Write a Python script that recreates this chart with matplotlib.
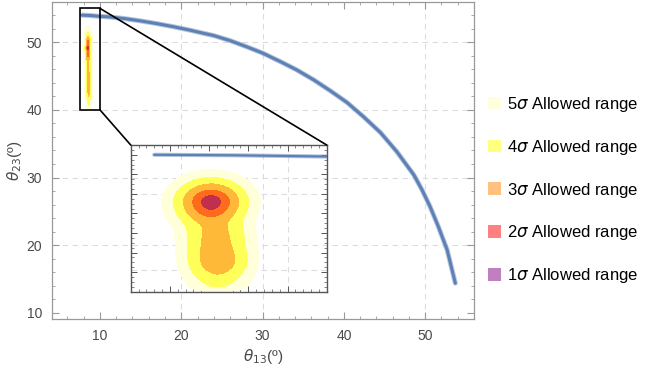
import matplotlib
matplotlib.use('Agg')
import matplotlib.pyplot as plt
import numpy as np
from matplotlib.patches import Rectangle, Patch, ConnectionPatch
from matplotlib.ticker import MultipleLocator

plt.rcParams['font.family'] = ['Liberation Sans', 'DejaVu Sans']
plt.rcParams['mathtext.fontset'] = 'dejavusans'

# scan points along the theta13 - theta23 band (degrees)
theta13_scan = [7.8, 8.8, 10.0, 11.0, 13.0, 15.0, 17.0, 19.0, 21.0, 23.0,
                24.0, 26.0, 28.0, 30.0, 32.2, 34.2, 36.3, 38.3, 40.4, 42.4,
                44.5, 46.5, 48.6, 49.6, 50.6, 51.6, 52.7, 53.7]
theta23_scan = [54.0, 53.95, 53.82, 53.75, 53.5, 53.15, 52.75, 52.3, 51.8, 51.25,
                50.98, 50.24, 49.35, 48.4, 47.13, 45.91, 44.43, 42.85, 41.08, 39.0,
                36.65, 33.84, 30.4, 28.2, 25.7, 22.8, 19.3, 14.4]

# global fit, upper (best fit) region
best_fit = (8.525, 49.2)
best_sig_x = 0.082
best_sig_y_up = 0.43
best_sig_y_down = 0.53
best_power = 1.65

# global fit, lower branch: chi2 profile along theta23
low_t23 = [38.5, 40.05, 40.35, 41.0, 41.7, 42.5, 43.2, 44.0, 45.0, 46.3, 47.5, 48.5, 50.0]
low_chi2 = [60.0, 28.7, 19.3, 15.5, 11.8, 8.6, 7.6, 8.0, 9.0, 9.8, 10.5, 14.0, 40.0]
low_center = [8.61, 8.61, 8.61, 8.61, 8.61, 8.61, 8.61, 8.60, 8.59, 8.58, 8.56, 8.55, 8.55]
low_width = [0.114, 0.114, 0.114, 0.114, 0.114, 0.114, 0.114, 0.116, 0.118, 0.12,
             0.115, 0.11, 0.11]

# delta chi2 for 1..5 sigma (2 dof)
sigma_levels = [2.30, 6.18, 11.83, 19.33, 28.74]
fill_colors = ['#C0304E', '#FF6A1C', '#FFB938', '#FFFF5A', '#FFFFDA']

legend_labels = [r'5$\sigma$ Allowed range', r'4$\sigma$ Allowed range',
                 r'3$\sigma$ Allowed range', r'2$\sigma$ Allowed range',
                 r'1$\sigma$ Allowed range']
legend_colors = ['#FFFFDD', '#FFFF80', '#FFC080', '#FF8080', '#C080C0']

band_color = '#5E81B5'
zoom_box = (7.5, 10.0, 40.0, 55.0)


def smooth(vals, n=9, s=3.0):
    k = np.exp(-0.5 * (np.arange(-n, n + 1) / s) ** 2)
    k /= k.sum()
    return np.convolve(np.pad(vals, n, mode='edge'), k, mode='valid')


# build the chi2 surface
yy = np.linspace(38.0, 56.0, 721)
xx = np.linspace(7.0, 10.5, 351)
X, Y = np.meshgrid(xx, yy)

sig_y = np.where(Y > best_fit[1], best_sig_y_up, best_sig_y_down)
r2 = ((X - best_fit[0]) / best_sig_x) ** 2 + ((Y - best_fit[1]) / sig_y) ** 2
q_up = r2 ** (best_power / 2)

h = smooth(np.interp(yy, low_t23, low_chi2))
xc = smooth(np.interp(yy, low_t23, low_center))
sx = smooth(np.interp(yy, low_t23, low_width))
q_low = ((X - xc[:, None]) / sx[:, None]) ** 2 + h[:, None]

chi2 = -2 * np.logaddexp(-q_up / 2, -q_low / 2)
chi2 -= chi2.min()
levels = [-5.0] + sigma_levels


def draw_fit(a, lw):
    a.contourf(X, Y, chi2, levels=levels, colors=fill_colors, zorder=2)
    a.plot(theta13_scan, theta23_scan, color=band_color, lw=lw + 1.4,
           alpha=0.45, solid_capstyle='round', zorder=3)
    a.plot(theta13_scan, theta23_scan, color=band_color, lw=lw,
           solid_capstyle='round', zorder=3)


fig = plt.figure(figsize=(6.49, 3.76), dpi=100)
ax = fig.add_axes([52 / 649, 57 / 376, 422 / 649, 316.7 / 376])
draw_fit(ax, 2.2)
ax.set_xlim(4.1, 56)
ax.set_ylim(9.1, 55.9)

for v in [20, 30, 50]:
    ax.axvline(v, color='#dcdcdc', lw=0.8, ls=(0, (5, 4)), zorder=0)
for v in [20, 30, 40, 50]:
    ax.axhline(v, color='#dcdcdc', lw=0.8, ls=(0, (5, 4)), zorder=0)

ax.xaxis.set_major_locator(MultipleLocator(10))
ax.xaxis.set_minor_locator(MultipleLocator(2))
ax.yaxis.set_major_locator(MultipleLocator(10))
ax.yaxis.set_minor_locator(MultipleLocator(2))
ax.tick_params(which='both', direction='in', top=True, right=True,
               color='#999999', labelcolor='#4a4a4a', labelsize=10, pad=7)
ax.tick_params(which='major', length=5, width=0.8)
ax.tick_params(which='minor', length=2.5, width=0.6)
for sp in ax.spines.values():
    sp.set_color('#999999')
    sp.set_linewidth(0.9)

ax.set_xlabel(r'$\theta_{13}$(º)', fontsize=11, color='#4a4a4a', labelpad=3)
ax.set_ylabel(r'$\theta_{23}$(º)', fontsize=11, color='#4a4a4a', labelpad=2)

x0, x1, y0, y1 = zoom_box
ax.add_patch(Rectangle((x0, y0), x1 - x0, y1 - y0, fill=False,
                       edgecolor='black', lw=1.2, zorder=4))

# zoomed inset
axins = fig.add_axes([130.7 / 649, 84.3 / 376, 196 / 649, 146.7 / 376])
axins.set_facecolor('none')
draw_fit(axins, 1.6)
axins.set_xlim(x0, x1)
axins.set_ylim(y0, y1)
axins.axvline(9.5, color='#dcdcdc', lw=0.8, ls=(0, (5, 4)), zorder=0)
for v in [42.2, 50.0]:
    axins.axhline(v, color='#dcdcdc', lw=0.8, ls=(0, (5, 4)), zorder=0)
axins.xaxis.set_major_locator(MultipleLocator(0.5))
axins.xaxis.set_minor_locator(MultipleLocator(0.1))
axins.yaxis.set_major_locator(MultipleLocator(2))
axins.yaxis.set_minor_locator(MultipleLocator(0.5))
axins.tick_params(which='both', direction='in', top=True, right=True,
                  labelbottom=False, labelleft=False, color='#555555')
axins.tick_params(which='major', length=4, width=0.7)
axins.tick_params(which='minor', length=2, width=0.5)
for sp in axins.spines.values():
    sp.set_color('#555555')
    sp.set_linewidth(1.0)

for xyA, xyB in [((x1, y1), (1, 1)), ((x1, y0), (0, 1))]:
    con = ConnectionPatch(xyA=xyA, coordsA=ax.transData, xyB=xyB,
                          coordsB=axins.transAxes, color='black', lw=1.2)
    fig.add_artist(con)

handles = [Patch(facecolor=c, edgecolor='none') for c in legend_colors]
fig.legend(handles, legend_labels, loc='center left',
           bbox_to_anchor=(488 / 649, 0.5 - 2 / 376), frameon=False, fontsize=12,
           handlelength=0.8, handleheight=0.8, handletextpad=0.35,
           labelspacing=1.43, borderpad=0, borderaxespad=0)

fig.savefig('out.png', dpi=100)
